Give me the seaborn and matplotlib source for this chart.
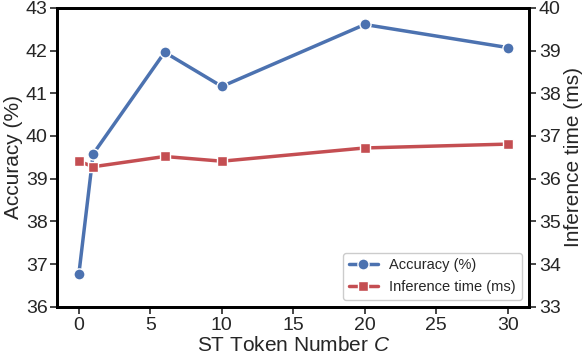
import matplotlib
matplotlib.use("Agg")
import matplotlib.pyplot as plt
import seaborn as sns
import pandas as pd

# values
token_numbers = [0, 1, 6, 10, 20, 30]
accuracy = [36.77, 39.58, 41.96, 41.16, 42.61, 42.07]
inference_time = [36.41, 36.28, 36.52, 36.41, 36.72, 36.81]

blue = "#4C72B0"
red = "#C44E52"

sns.set_theme(style="ticks")
plt.rcParams['font.family'] = ['Liberation Sans', 'DejaVu Sans']
plt.rcParams['mathtext.fontset'] = 'custom'
plt.rcParams['mathtext.it'] = 'Liberation Sans:italic'
plt.rcParams['mathtext.rm'] = 'Liberation Sans'

df = pd.DataFrame({"C": token_numbers, "acc": accuracy, "time": inference_time})

fig, ax = plt.subplots(figsize=(5.86, 3.56), dpi=100)
ax2 = ax.twinx()

sns.lineplot(data=df, x="C", y="acc", ax=ax, color=blue, marker="o", markersize=8,
             markeredgecolor="white", markeredgewidth=1.0, linewidth=2.5,
             label="Accuracy (%)", legend=False)
sns.lineplot(data=df, x="C", y="time", ax=ax2, color=red, marker="s", markersize=7,
             markeredgecolor="white", markeredgewidth=1.0, linewidth=2.5,
             label="Inference time (ms)", legend=False)

ax.set_xlim(-1.5, 31.5)
ax.set_ylim(36, 43)
ax2.set_ylim(33, 40)
ax.set_xticks([0, 5, 10, 15, 20, 25, 30])
ax.set_yticks(range(36, 44))
ax2.set_yticks(range(33, 41))

txt = "#262626"
ax.set_xlabel("ST Token Number $C$", fontsize=15, color=txt, labelpad=2)
ax.set_ylabel("Accuracy (%)", fontsize=15, color=txt, labelpad=2)
ax2.set_ylabel("Inference time (ms)", fontsize=15, color=txt, labelpad=2)

for a in (ax, ax2):
    a.tick_params(labelsize=14, colors=txt, width=1.2, length=5, pad=2)
    for s in a.spines.values():
        s.set_linewidth(2.0)
        s.set_color("black")

h1, l1 = ax.get_legend_handles_labels()
h2, l2 = ax2.get_legend_handles_labels()
ax2.legend(h1 + h2, l1 + l2, loc="lower right", fontsize=10.5, frameon=True,
           edgecolor="#cccccc", framealpha=1.0, borderaxespad=0.5)

fig.subplots_adjust(left=0.098, right=0.903, top=0.978, bottom=0.138)
fig.savefig("out.png", dpi=100)
